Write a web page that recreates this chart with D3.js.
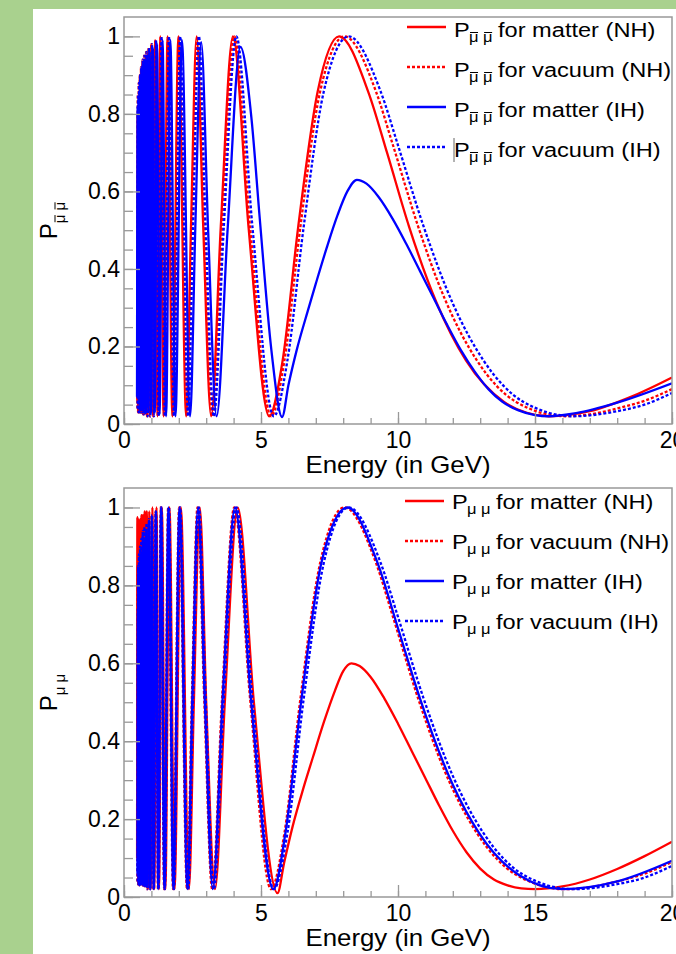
<!DOCTYPE html>
<html>
<head>
<meta charset="utf-8">
<script src="https://cdn.jsdelivr.net/npm/d3@7"></script>
<style>
  body { margin: 0; background: #a9d18e; }
  svg { display: block; }
  text { font-family: "Liberation Sans", Arial, sans-serif; fill: #000; }
</style>
</head>
<body>
<svg id="chart" width="676" height="954"></svg>
<script>
/**
 * DATA  [energy in GeV, probability]
 * */
// upper panel, antineutrino survival in matter
const topNHmatter = [
  [0.485,0.06],[0.497,0.80],[0.513,0.03],[0.53,0.82],[0.548,0.03],[0.568,0.86],[0.589,0.03],[0.612,0.90],
  [0.636,0.03],[0.6625,0.92],[0.691,0.025],[0.723,0.94],[0.757,0.025],[0.795,0.95],[0.837,0.02],[0.883,0.96],
  [0.935,0.02],[0.994,0.98],[1.06,0.02],[1.136,0.99],[1.223,0.02],[1.325,1],[1.445,0.02],[1.59,1],
  [1.767,0.02],[1.9875,1],[2.271,0.02],[2.446,0.51],[2.65,1],[2.891,0.51],[3.18,0.02],[3.533,0.51],
  [3.975,1],[4.543,0.51],[5.3,0.02],[5.782,0.16],[6.36,0.51],[7.067,0.857],[7.85,1],[8.914,0.857],
  [9.6,0.70],[10.4,0.51],[11.4,0.314],[12.48,0.164],[13.87,0.057],[14.7,0.029],[15.5,0.02],[17,0.033],
  [18.5,0.07],[20,0.12]
];
const topIHmatter = [
  [0.475,0.07],[0.497,0.82],[0.512,0.07],[0.528,0.84],[0.545,0.06],[0.563,0.86],[0.583,0.05],[0.604,0.90],
  [0.626,0.05],[0.65,0.92],[0.676,0.04],[0.704,0.93],[0.735,0.04],[0.768,0.94],[0.805,0.03],[0.845,0.95],
  [0.889,0.03],[0.939,0.96],[0.994,0.03],[1.056,0.97],[1.127,0.03],[1.207,0.98],[1.3,0.025],[1.408,0.99],
  [1.536,0.02],[1.69,0.99],[1.878,0.02],[2.1125,0.99],[2.414,0.02],[2.6,0.5],[2.817,0.985],[3.07,0.5],
  [3.38,0.02],[3.78,0.5],[4.25,0.973],[4.65,0.79],[4.95,0.534],[5.38,0.19],[5.77,0.018],[6.0,0.1],
  [6.3,0.19],[6.7,0.29],[7.0,0.362],[7.4,0.455],[7.8,0.54],[8.15,0.60],[8.5,0.63],[8.85,0.62],
  [9.3,0.585],[9.8,0.53],[10.3,0.465],[10.8,0.395],[11.3,0.325],[11.8,0.255],[12.3,0.19],[12.8,0.135],
  [13.3,0.09],[13.8,0.058],[14.4,0.035],[15.0,0.023],[15.5,0.02],[16.5,0.028],[18,0.055],[20,0.105]
];
// lower panel, neutrino survival in matter
const botNHmatter = [
  [0.478,0.10],[0.488,0.975],[0.503,0.10],[0.519,0.97],[0.535,0.08],[0.553,0.96],[0.572,0.06],[0.593,0.97],
  [0.615,0.05],[0.638,0.98],[0.664,0.04],[0.692,0.98],[0.722,0.03],[0.755,0.99],[0.79,0.03],[0.83,0.99],
  [0.874,0.02],[0.922,0.99],[0.976,0.02],[1.0375,1],[1.107,0.02],[1.186,1],[1.277,0.02],[1.383,1],
  [1.509,0.02],[1.66,1],[1.844,0.02],[2.075,1],[2.371,0.02],[2.55,0.5],[2.767,1],[3.0,0.5],
  [3.32,0.02],[3.68,0.5],[4.15,1],[4.74,0.5],[5.6,0.01],[5.85,0.09],[6.15,0.18],[6.55,0.28],
  [6.9,0.36],[7.3,0.45],[7.7,0.53],[8.0,0.58],[8.3,0.60],[8.6,0.593],[9.0,0.565],[9.5,0.51],
  [10,0.445],[10.5,0.375],[11,0.305],[11.5,0.235],[12,0.17],[12.5,0.115],[13,0.073],[13.5,0.045],
  [14,0.03],[14.5,0.022],[15,0.02],[16,0.027],[17,0.045],[18,0.072],[19,0.105],[20,0.142]
];
const botIHmatter = [
  [0.491,0.06],[0.506,0.74],[0.523,0.06],[0.54,0.80],[0.559,0.05],[0.579,0.86],[0.6,0.04],[0.623,0.88],
  [0.648,0.04],[0.675,0.90],[0.704,0.03],[0.736,0.92],[0.771,0.03],[0.81,0.94],[0.853,0.025],[0.9,0.96],
  [0.953,0.02],[1.0125,0.98],[1.08,0.02],[1.157,0.99],[1.246,0.02],[1.35,1],[1.473,0.02],[1.62,1],
  [1.8,0.02],[2.025,1],[2.314,0.02],[2.492,0.51],[2.7,1],[2.945,0.51],[3.24,0.02],[3.6,0.51],
  [4.05,1],[4.629,0.51],[5.45,0.02],[5.891,0.164],[6.48,0.51],[7.2,0.857],[8.15,1],[9.257,0.857],
  [10,0.69],[10.8,0.51],[12,0.288],[12.96,0.164],[14.4,0.057],[16.0,0.02],[18,0.04],[20,0.093]
];
// vacuum curves (same for both panels)
const vacNH = [
  [0.488,0.04],[0.503,0.85],[0.519,0.03],[0.537,0.88],[0.555,0.03],[0.575,0.90],[0.596,0.03],[0.619,0.92],
  [0.644,0.03],[0.671,0.94],[0.70,0.025],[0.732,0.95],[0.767,0.025],[0.805,0.96],[0.847,0.02],[0.894,0.97],
  [0.947,0.02],[1.006,0.98],[1.073,0.02],[1.15,0.99],[1.238,0.02],[1.342,1],[1.464,0.02],[1.61,1],
  [1.789,0.02],[2.0125,1],[2.3,0.02],[2.477,0.51],[2.683,1],[2.927,0.51],[3.22,0.02],[3.578,0.51],
  [4.025,1],[4.6,0.51],[5.367,0.02],[5.855,0.164],[6.44,0.51],[7.156,0.857],[8.05,1],[9.2,0.857],
  [9.8,0.723],[10.733,0.51],[11.7,0.324],[12.88,0.164],[14.31,0.057],[16.1,0.02],[17,0.025],[18,0.04],
  [19,0.06],[20,0.09]
];
const vacIH = [
  [0.497,0.04],[0.5125,0.85],[0.529,0.03],[0.547,0.88],[0.566,0.03],[0.586,0.90],[0.607,0.03],[0.631,0.92],
  [0.656,0.03],[0.683,0.94],[0.713,0.025],[0.745,0.95],[0.781,0.025],[0.82,0.96],[0.863,0.02],[0.911,0.97],
  [0.965,0.02],[1.025,0.98],[1.093,0.02],[1.171,0.99],[1.262,0.02],[1.367,1],[1.491,0.02],[1.64,1],
  [1.822,0.02],[2.05,1],[2.343,0.02],[2.523,0.51],[2.733,1],[2.982,0.51],[3.28,0.02],[3.644,0.51],
  [4.1,1],[4.686,0.51],[5.467,0.02],[5.964,0.164],[6.56,0.51],[7.289,0.857],[8.2,1],[9.371,0.857],
  [10,0.719],[10.933,0.51],[12,0.311],[13.12,0.164],[14.578,0.057],[16.4,0.02],[18,0.033],[19,0.05],
  [20,0.08]
];

const xMajor = [0, 5, 10, 15, 20];
const yMajor = [0, 0.2, 0.4, 0.6, 0.8, 1];
const legendNames = ["for matter (NH)", "for vacuum (NH)", "for matter (IH)", "for vacuum (IH)"];
const xTitle = "Energy (in GeV)";

/**
 * LAYOUT
 * */
const plotL = 124, plotR = 672;
const panels = [
  { top: 17, bottom: 424, bar: true, series: [topNHmatter, vacNH, topIHmatter, vacIH],
    legX: 407, legY: 27, legBase: 10, cursor: true },
  { top: 488, bottom: 897, bar: false, series: [botNHmatter, vacNH, botIHmatter, vacIH],
    legX: 405, legY: 501, legBase: 8, cursor: false }
];
const styles = [
  { c: "#ff0000", dash: null },
  { c: "#ff0000", dash: "3,2" },
  { c: "#0000ff", dash: null },
  { c: "#0000ff", dash: "3,2" }
];

const svg = d3.select("#chart");

// white slide area over the green background
svg.append("rect").attr("x", 33).attr("y", 9).attr("width", 676 - 33).attr("height", 954 - 9).attr("fill", "#fff");

// ROOT text is a bit wider than Liberation Sans
function stretch(sel, k) {
  sel.each(function() {
    const w = this.getComputedTextLength();
    d3.select(this).attr("textLength", w * k).attr("lengthAdjust", "spacingAndGlyphs");
  });
}

// bar over the mu glyphs (anti-muon)
function overbars(parent, node, idx, barY) {
  idx.forEach(i => {
    const r = node.getExtentOfChar(i);
    parent.append("line")
      .attr("x1", r.x + 1).attr("x2", r.x + r.width - 0.5)
      .attr("y1", barY).attr("y2", barY)
      .attr("stroke", "#000").attr("stroke-width", 1);
  });
}

const x = d3.scaleLinear().domain([0, 20]).range([plotL, plotR]);

panels.forEach((p, pi) => {
  const y = d3.scaleLinear().domain([0, 1.05]).range([p.bottom, p.top]);
  const g = svg.append("g");

  g.append("clipPath").attr("id", "clip" + pi)
    .append("rect").attr("x", plotL).attr("y", p.top).attr("width", plotR - plotL).attr("height", p.bottom - p.top);

  const line = d3.line().x(d => x(d[0])).y(d => y(d[1])).curve(d3.curveMonotoneX);

  g.append("g").attr("clip-path", `url(#clip${pi})`)
    .selectAll("path")
    .data(p.series)
    .join("path")
    .attr("d", line)
    .attr("fill", "none")
    .attr("stroke", (d, i) => styles[i].c)
    .attr("stroke-width", 2.3)
    .attr("stroke-dasharray", (d, i) => styles[i].dash);

  // frame
  g.append("rect").attr("x", plotL).attr("y", p.top).attr("width", plotR - plotL).attr("height", p.bottom - p.top)
    .attr("fill", "none").attr("stroke", "#999").attr("stroke-width", 1.5);

  // x axis
  g.append("g").attr("transform", `translate(0,${p.bottom})`)
    .call(d3.axisBottom(x).tickValues(d3.range(0, 21, 1)).tickSize(-6).tickFormat(""));
  g.append("g").attr("transform", `translate(0,${p.bottom})`)
    .call(d3.axisBottom(x).tickValues(xMajor).tickSize(-12).tickPadding(8).tickFormat(d3.format("d")));

  // y axis
  g.append("g").attr("transform", `translate(${plotL},0)`)
    .call(d3.axisLeft(y).tickValues(d3.range(0, 1.001, 0.05)).tickSize(-9).tickFormat(""));
  g.append("g").attr("transform", `translate(${plotL},0)`)
    .call(d3.axisLeft(y).tickValues(yMajor).tickSize(-16).tickPadding(4)
      .tickFormat(d => (d === 0 || d === 1) ? String(d) : d3.format(".1f")(d)));

  g.selectAll(".domain").remove();
  g.selectAll(".tick line").attr("stroke", "#999").attr("stroke-width", 1.3);
  g.selectAll(".tick text").attr("font-size", 23).attr("font-family", "Liberation Sans, Arial, sans-serif").attr("fill", "#000");

  // x title
  g.append("text").attr("x", (plotL + plotR) / 2).attr("y", p.bottom + 49)
    .attr("text-anchor", "middle").attr("font-size", 24).text(xTitle)
    .call(stretch, 1.075);

  // y title
  const yg = g.append("g").attr("transform", `translate(57,${(p.top + p.bottom) / 2}) rotate(-90)`);
  const yt = yg.append("text").attr("text-anchor", "middle").attr("font-size", 24);
  yt.append("tspan").text("P");
  yt.append("tspan").attr("font-size", 15).attr("dy", 8).text("\u03bc \u03bc");
  if (p.bar) overbars(yg, yt.node(), [1, 3], 8 - 10);

  // legend
  legendNames.forEach((name, i) => {
    const ly = p.legY + i * 40;
    const base = ly + p.legBase;
    g.append("line").attr("x1", p.legX).attr("x2", p.legX + 39).attr("y1", ly).attr("y2", ly)
      .attr("stroke", styles[i].c).attr("stroke-width", 2.3).attr("stroke-dasharray", styles[i].dash);
    g.append("text").attr("x", p.legX + 47).attr("y", base).attr("font-size", 20).text("P").call(stretch, 1.18);
    const sub = g.append("text").attr("x", p.legX + 62).attr("y", base + 5).attr("font-size", 14)
      .text("\u03bc \u03bc").call(stretch, 1.18);
    if (p.bar) overbars(g, sub.node(), [0, 2], base + 5 - 9.5);
    g.append("text").attr("x", p.legX + 91).attr("y", base).attr("font-size", 20).text(name).call(stretch, 1.18);
    if (p.cursor && i === 3) {
      g.append("line").attr("x1", p.legX + 47).attr("x2", p.legX + 47).attr("y1", ly - 9).attr("y2", ly + 15)
        .attr("stroke", "#666").attr("stroke-width", 1);
    }
  });
});
</script>
</body>
</html>
